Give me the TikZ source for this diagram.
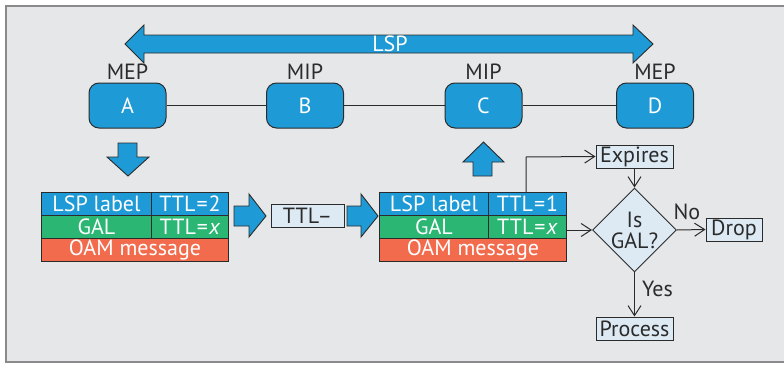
\documentclass[tikz,border=0pt]{standalone}
\usepackage{fontspec}
\setmainfont{PT Sans}
\usetikzlibrary{arrows.meta,shapes.geometric}
\definecolor{bg}{HTML}{E6E7E9}
\definecolor{frame}{HTML}{8A8A8C}
\definecolor{lspblue}{HTML}{1E9AD6}
\definecolor{galgreen}{HTML}{2BB673}
\definecolor{oamred}{HTML}{F26B4C}
\definecolor{pale}{HTML}{DDEAF4}
\definecolor{ink}{HTML}{2B2B2B}
\newcommand{\ttleq}[1]{TTL\kern1pt=\kern1pt#1}
\tikzset{
  txt/.style={font=\fontsize{22}{24}\selectfont},
  node/.style={draw=ink, line width=1pt, fill=lspblue, rounded corners=10pt,
    minimum width=77pt, minimum height=45pt, inner sep=0pt, text=white, txt},
  role/.style={txt, text=ink, inner sep=0pt},
  cell/.style={draw=ink, line width=1pt, minimum height=23pt, inner sep=0pt,
    text=white, txt, anchor=north west},
  tag/.style={draw=ink, line width=1pt, fill=pale, inner sep=0pt, minimum height=23pt, txt, text=ink},
  blockarrow/.style={draw=ink, line width=0.9pt, fill=lspblue, line join=miter},
  link/.style={draw=ink, line width=1pt},
  flow/.style={draw=ink, line width=1pt, -{Straight Barb[length=10pt,width=13pt,line width=1pt]}},
}
\begin{document}
\begin{tikzpicture}[x=1pt,y=-1pt]
\useasboundingbox (0,0) rectangle (784,364);
\fill[white] (0,0) rectangle (784,364);
\begin{scope}
\clip (0,0) rectangle (784,364);
\draw[frame, fill=bg, line width=1.5pt] (6,6) rectangle (800,362);
\end{scope}

% LSP double arrow
\draw[blockarrow] (125,44) -- (144,25) -- (144,35) -- (633,35) -- (633,25) -- (653,44)
  -- (633,63) -- (633,53) -- (144,53) -- (144,63) -- cycle;
\node[txt, text=white, inner sep=0pt] (lsp) at (390,44) {LSP};

% Path nodes
\node[node] (A) at (127.5,105.5) {A};
\node[node] (B) at (305,105.5) {B};
\node[node] (C) at (483.5,105.5) {C};
\node[node] (D) at (655,105.5) {D};
\node[role] (rA) at (127.5,72) {MEP};
\node[role] (rB) at (305,72) {MIP};
\node[role] (rC) at (483.5,72) {MIP};
\node[role] (rD) at (655,72) {MEP};
\draw[link] (A) -- (B);
\draw[link] (B) -- (C);
\draw[link] (C) -- (D);

% Down arrow below A and up arrow below C
\draw[blockarrow] (118,143) -- (137,143) -- (137,157) -- (149,157) -- (128,176) -- (107,157) -- (118,157) -- cycle;
\draw[blockarrow] (473,176) -- (492,176) -- (492,162) -- (504,162) -- (483.5,142) -- (463,162) -- (473,162) -- cycle;

% Packet before the TTL decrement
\node[cell, fill=lspblue, minimum width=110pt] (l1) at (41,192) {LSP label};
\node[cell, fill=lspblue, minimum width=77pt] (t1) at (151,192) {\ttleq{2}};
\node[cell, fill=galgreen, minimum width=110pt] (g1) at (41,215) {GAL};
\node[cell, fill=galgreen, minimum width=77pt] (x1) at (151,215) {\ttleq{\textit{x}}};
\node[cell, fill=oamred, minimum width=187pt] (o1) at (41,238) {OAM message};

% TTL decrement step
\draw[blockarrow] (234,206) -- (249,206) -- (249,194) -- (266,216) -- (249,237) -- (249,226) -- (234,226) -- cycle;
\node[tag, minimum width=73pt] (dec) at (307.5,216) {TTL–};
\draw[blockarrow] (347,206) -- (361,206) -- (361,194) -- (378,216) -- (361,237) -- (361,226) -- (347,226) -- cycle;

% Packet after the TTL decrement
\node[cell, fill=lspblue, minimum width=109pt] (l2) at (379,192) {LSP label};
\node[cell, fill=lspblue, minimum width=78pt] (t2) at (488,192) {\ttleq{1}};
\node[cell, fill=galgreen, minimum width=109pt] (g2) at (379,215) {GAL};
\node[cell, fill=galgreen, minimum width=78pt] (x2) at (488,215) {\ttleq{\textit{x}}};
\node[cell, fill=oamred, minimum width=187pt] (o2) at (379,238) {OAM message};

% Decision flow
\node[tag, minimum width=77pt] (exp) at (634.5,156.5) {Expires};
\node[diamond, draw=ink, line width=1pt, fill=pale, minimum width=81pt, minimum height=78pt,
  inner sep=0pt, txt, text=ink, align=center] (gal) at (634.5,230) {Is\\[-3pt]GAL?};
\node[tag, minimum width=56pt] (drop) at (734,229.5) {Drop};
\node[tag, minimum width=77pt] (proc) at (634.5,328.5) {Process};
\coordinate (up) at (526,157);
\draw[flow] (t2.north -| up) -- (up) -- (exp.west);
\draw[flow] (exp) -- (gal.north);
\draw[flow] (x2.east |- gal.west) -- (gal.west);
\draw[flow] (gal.east) -- node[role, pos=0.35, above=10pt] (no) {No} (drop.west);
\draw[flow] (gal.south) -- node[role, pos=0.38, right=7pt] (yes) {Yes} (proc.north);
\end{tikzpicture}
\end{document}
